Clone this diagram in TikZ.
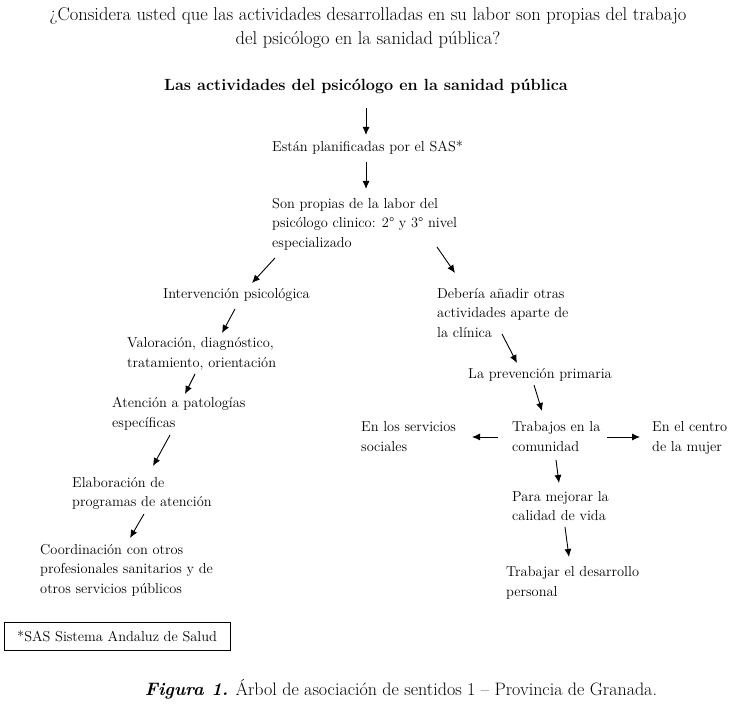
\documentclass[tikz,border=0pt]{standalone}
\usepackage{fontspec}
\usetikzlibrary{arrows.meta}
\tikzset{
  txt/.style={anchor=base west, inner sep=0pt, align=left, font=\fontsize{14.4}{19.5}\selectfont},
  arr/.style={-{Latex[length=8pt,width=7pt]}, line width=0.9pt},
}
\begin{document}
\begin{tikzpicture}[x=1pt,y=-1pt]
\useasboundingbox (0,0) rectangle (734,708);
% titles
\node[anchor=base, inner sep=0pt, align=center, font=\fontsize{18.5}{24}\selectfont] (q) at (368,45)
  {¿Considera usted que las actividades desarrolladas en su labor son propias del trabajo\\del psicólogo en la sanidad pública?};
\node[anchor=base, inner sep=0pt, font=\fontsize{16.2}{19}\selectfont\bfseries] (head) at (366,91)
  {Las actividades del psicólogo en la sanidad pública};
% center chain
\node[txt] (plan) at (272,152) {Están planificadas por el SAS*};
\node[txt] (prop) at (272,247.5) {Son propias de la labor del\\psicólogo clinico: 2° y 3° nivel\\especializado};
% left branch
\node[txt] (int) at (163,299) {Intervención psicológica};
\node[txt] (val) at (127,367.5) {Valoración, diagnóstico,\\tratamiento, orientación};
\node[txt] (ate) at (112,427.5) {Atención a patologías\\específicas};
\node[txt] (ela) at (72,507) {Elaboración de\\programas de atención};
\node[txt] (coo) at (40,593) {Coordinación con otros\\profesionales sanitarios y de\\otros servicios públicos};
% right branch
\node[txt] (deb) at (437,337.5) {Debería añadir otras\\actividades aparte de\\la clínica};
\node[txt] (pre) at (468,379) {La prevención primaria};
\node[txt] (tra) at (512,451.5) {Trabajos en la\\comunidad};
\node[txt] (ser) at (361,451.5) {En los servicios\\sociales};
\node[txt] (muj) at (652,451.5) {En el centro\\de la mujer};
\node[txt] (mej) at (512,520.5) {Para mejorar la\\calidad de vida};
\node[txt] (des) at (506,596) {Trabajar el desarrollo\\personal};
% footnote box
\node[draw, line width=0.8pt, minimum width=226pt, minimum height=28pt, anchor=north west, inner sep=0pt] (box) at (4,622) {};
\node[txt] (sas) at (17,641) {*SAS Sistema Andaluz de Salud};
% caption
\node[anchor=base, inner sep=0pt, font=\fontsize{18}{22}\selectfont] (cap) at (401,695)
  {\textbf{\textit{Figura 1.}} Árbol de asociación de sentidos 1 -- Provincia de Granada.};
% arrow coordinates
\coordinate (h1) at (366,108); \coordinate (h2) at (366,135);
\coordinate (p1) at (366,162); \coordinate (p2) at (366,189);
\coordinate (l1) at (275,258); \coordinate (l2) at (252,283);
\coordinate (r1) at (437,247); \coordinate (r2) at (455,273);
\coordinate (i1) at (235,309); \coordinate (i2) at (222,333);
\coordinate (v1) at (195,374); \coordinate (v2) at (185,394);
\coordinate (t1) at (170,435); \coordinate (t2) at (153,466);
\coordinate (e1) at (144,514); \coordinate (e2) at (130,538);
\coordinate (d1) at (502,334); \coordinate (d2) at (517,363);
\coordinate (c1) at (534,385); \coordinate (c2) at (542,411);
\coordinate (w1) at (498,437); \coordinate (w2) at (472,437);
\coordinate (m1) at (607,437); \coordinate (m2) at (640,437);
\coordinate (g1) at (556,460); \coordinate (g2) at (559,483);
\coordinate (k1) at (565,527); \coordinate (k2) at (569,557);
\draw[arr] (h1) -- (h2);
\draw[arr] (p1) -- (p2);
\draw[arr] (l1) -- (l2);
\draw[arr] (r1) -- (r2);
\draw[arr] (i1) -- (i2);
\draw[arr] (v1) -- (v2);
\draw[arr] (t1) -- (t2);
\draw[arr] (e1) -- (e2);
\draw[arr] (d1) -- (d2);
\draw[arr] (c1) -- (c2);
\draw[arr] (w1) -- (w2);
\draw[arr] (m1) -- (m2);
\draw[arr] (g1) -- (g2);
\draw[arr] (k1) -- (k2);
\end{tikzpicture}
\end{document}
